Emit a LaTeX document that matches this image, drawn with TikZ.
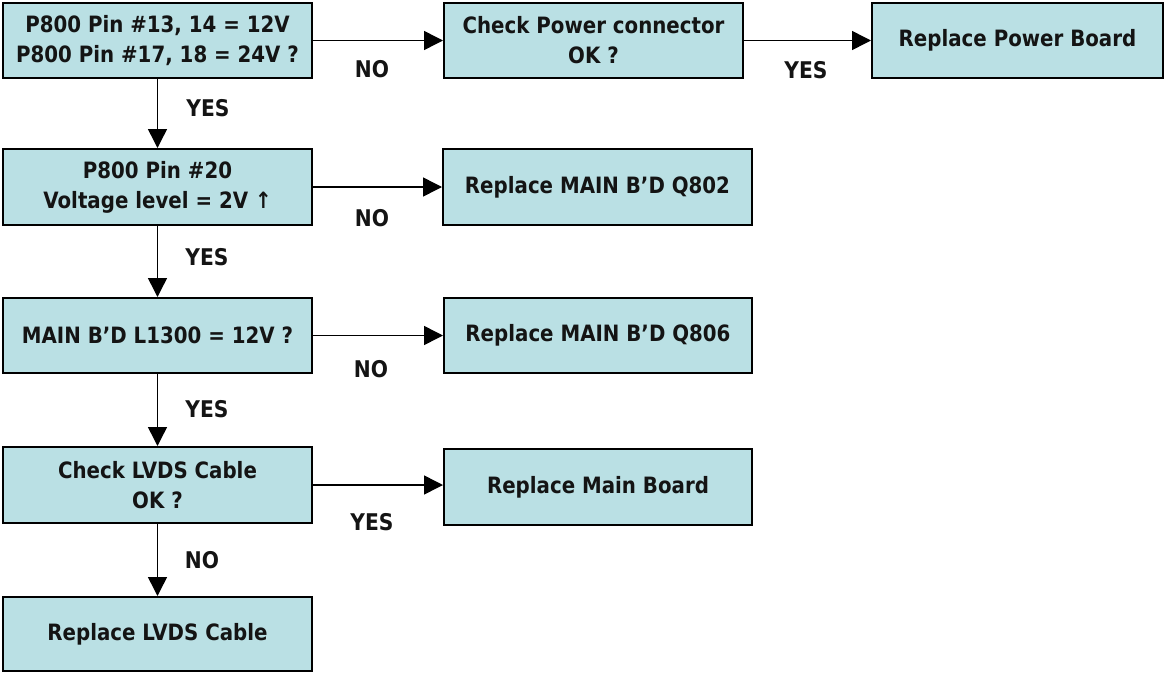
\documentclass[tikz,border=0pt]{standalone}
\usepackage{fontspec}
\setmainfont{DejaVu Sans}[FakeStretch=0.88]
\usetikzlibrary{arrows.meta}
\definecolor{boxfill}{RGB}{186,224,228}
\definecolor{txt}{RGB}{20,20,20}
\tikzset{
  flowbox/.style={draw=black, line width=2pt, fill=boxfill, align=center,
    inner sep=0pt, text=txt, font=\fontsize{22.5}{30}\selectfont\bfseries},
  arr/.style={line width=1.5pt, -{Triangle[length=19pt,width=19pt]}},
  lbl/.style={text=txt, font=\fontsize{23}{26}\selectfont\bfseries, inner sep=0pt}
}
\begin{document}
\begin{tikzpicture}[x=1pt,y=-1pt]
\useasboundingbox (0,0) rectangle (1167,672);
% boxes
\node[flowbox, minimum width=309, minimum height=75] (b1) at (157.5,40.5)
  {P800 Pin \#13, 14 = 12V\\P800 Pin \#17, 18 = 24V ?};
\node[flowbox, minimum width=299, minimum height=75] (b2) at (593.5,40.5)
  {Check Power connector\\OK ?};
\node[flowbox, minimum width=291, minimum height=75] (b3) at (1017.5,40.5)
  {Replace Power Board};
\node[flowbox, minimum width=309, minimum height=76] (b4) at (157.5,187)
  {P800 Pin \#20\\Voltage level = 2V ↑};
\node[flowbox, minimum width=309, minimum height=76] (b5) at (597.5,187)
  {Replace MAIN B’D Q802};
\node[flowbox, minimum width=309, minimum height=75] (b6) at (157.5,335.5)
  {MAIN B’D L1300 = 12V ?};
\node[flowbox, minimum width=308, minimum height=75] (b7) at (598,335.5)
  {Replace MAIN B’D Q806};
\node[flowbox, minimum width=309, minimum height=76] (b8) at (157.5,485)
  {Check LVDS Cable\\OK ?};
\node[flowbox, minimum width=308, minimum height=76] (b9) at (598,487)
  {Replace Main Board};
\node[flowbox, minimum width=309, minimum height=74] (b10) at (157.5,634)
  {Replace LVDS Cable};
% connectors
\draw[arr] (b1.east) -- (b1.east -| b2.west);
\draw[arr] (b2.east) -- (b2.east -| b3.west);
\draw[arr] (b4.east) -- (b4.east -| b5.west);
\draw[arr] (b6.east) -- (b6.east -| b7.west);
\draw[arr] (b8.east) -- (b8.east -| b9.west);
\draw[arr] (b1.south) -- (b4.north);
\draw[arr] (b4.south) -- (b6.north);
\draw[arr] (b6.south) -- (b8.north);
\draw[arr] (b8.south) -- (b10.north);
% labels
\node[lbl] (l1) at (372,69) {NO};
\node[lbl] (l2) at (806,70) {YES};
\node[lbl] (l3) at (372,218) {NO};
\node[lbl] (l4) at (371,369) {NO};
\node[lbl] (l5) at (372,522) {YES};
\node[lbl] (l6) at (208,108) {YES};
\node[lbl] (l7) at (207,257) {YES};
\node[lbl] (l8) at (207,409) {YES};
\node[lbl] (l9) at (202,560) {NO};
\end{tikzpicture}
\end{document}
